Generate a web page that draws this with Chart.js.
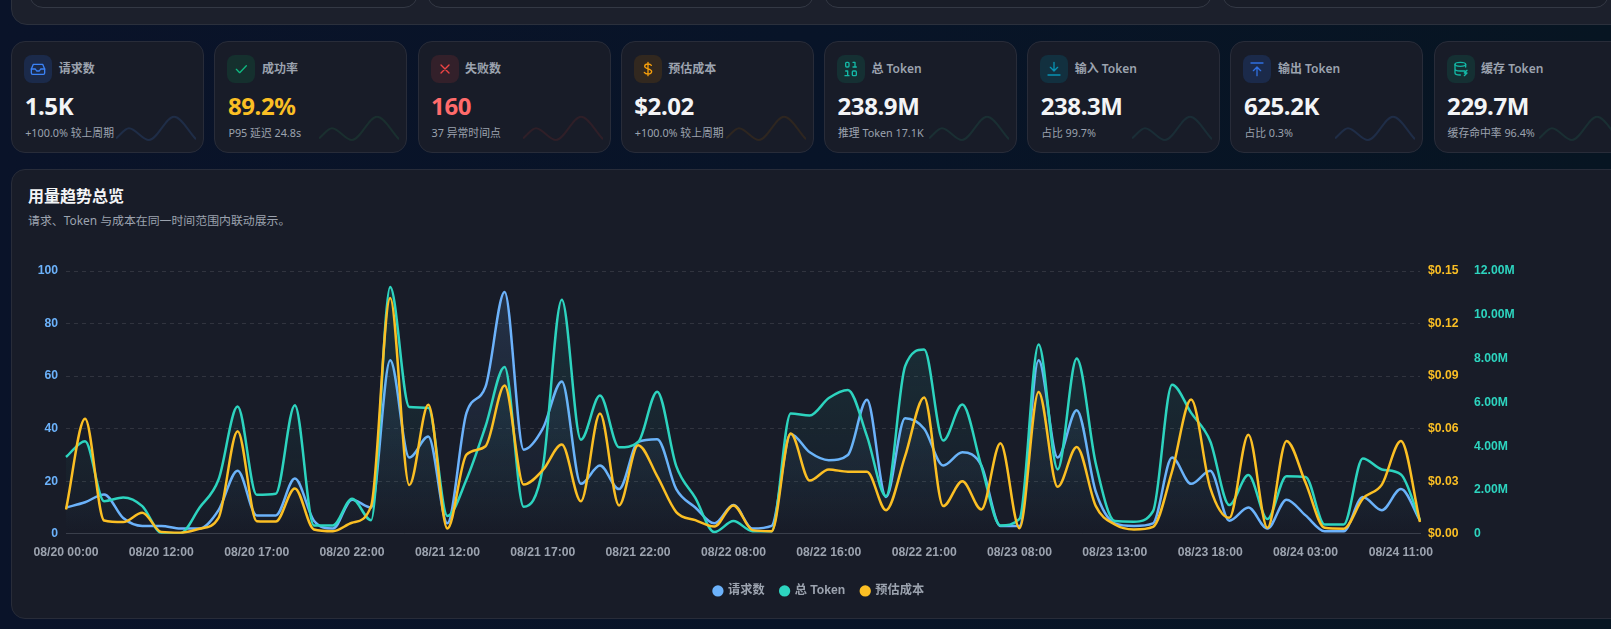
<!DOCTYPE html>
<html lang="zh-CN"><head><meta charset="utf-8">
<script src="https://cdn.jsdelivr.net/npm/chart.js@4"></script>
<style>
*{box-sizing:border-box}
html,body{margin:0;height:629px;width:1611px;overflow:hidden}
body{background:linear-gradient(90deg,#0a1329,#081428 50%,#071522);font-family:"Noto Sans","Noto Sans CJK SC",sans-serif;position:relative}
.abs{position:absolute}
.top{left:11px;top:-40px;width:1640px;height:64.5px;background:#1c202c;border:1px solid #2b303c;border-radius:16px}
.inner{top:-40px;height:47.5px;background:#191d28;border:1px solid #343945;border-radius:14px}
.card{top:41px;width:193px;height:112px;background:#181c28;border:1px solid #282c39;border-radius:14px}
.tile{left:12px;top:13px;width:28px;height:28px;border-radius:8px;display:flex;align-items:center;justify-content:center}
.lab{left:46.5px;top:18px;font-size:12px;line-height:18px;font-weight:600;color:#9ca3af;white-space:nowrap}
.val{left:12.5px;top:46.5px;font-size:24px;line-height:34px;font-weight:700;color:#f3f4f6;letter-spacing:-.4px;white-space:nowrap}
.sub{left:13px;top:82px;font-size:10.8px;line-height:17px;color:#9ca3af;white-space:nowrap}
.spark{left:104px;top:72px;width:80px;height:28px}
.panel{left:11px;top:169px;width:1640px;height:450px;background:#181c28;border:1px solid #282c39;border-radius:14px}
h3{margin:0;left:28px;top:183.5px;font-size:16px;line-height:24px;font-weight:700;color:#f3f4f6;white-space:nowrap}
.ps{left:28px;top:211px;font-size:11.9px;line-height:18px;color:#9ca3af;white-space:nowrap}
#main{left:28px;top:240px}
</style></head><body>
<div class="abs top"></div>
<div class="abs inner" style="left:28.5px;width:389px"></div>
<div class="abs inner" style="left:427px;width:387px"></div>
<div class="abs inner" style="left:824px;width:388px"></div>
<div class="abs inner" style="left:1222px;width:387px"></div>
<div id="cards"></div>
<div class="abs panel"></div>
<h3 class="abs">用量趋势总览</h3>
<div class="abs ps">请求、Token 与成本在同一时间范围内联动展示。</div>
<canvas id="main" class="abs" width="1582" height="367" style="width:1582px;height:367px"></canvas>
<script>
const tickLabels=["08/20 00:00","08/20 12:00","08/20 17:00","08/20 22:00","08/21 12:00","08/21 17:00","08/21 22:00","08/22 08:00","08/22 16:00","08/22 21:00","08/23 08:00","08/23 13:00","08/23 18:00","08/24 03:00","08/24 11:00"];
const requests=[10,12,15,6,3,3,2,2,9,24,7,7,21,5,2,13,10,66,29,37,4,46,56,92,32,40,58,19,26,17,35,36,17,10,4,11,2,3,38,31,28,30,51,14,44,40,26,31,26,3,3,66,29,47,16,4,3,4,29,19,24,5,10,2,13,7,1,1,14,9,17,5];
const tokensM=[3.51,4.23,1.49,1.66,1.26,0.05,0.03,1.19,2.48,5.81,1.78,1.83,5.87,0.38,0.38,1.6,0.62,11.27,5.79,5.75,0.81,2.48,4.91,7.62,1.23,3.0,10.69,4.3,6.31,3.95,4.18,6.49,3.09,1.64,0.08,0.58,0.12,0.12,5.49,5.4,6.2,6.57,4.46,1.72,7.65,8.41,4.26,5.9,3.09,0.38,0.68,8.64,2.94,8.0,3.2,0.58,0.55,1.03,6.81,5.52,4.23,1.31,2.68,0.68,2.63,2.59,0.43,0.43,3.44,2.94,2.71,0.62];
const costs=[0.0139,0.0656,0.0076,0.0067,0.012,0.001,0.0006,0.0029,0.0091,0.0586,0.0072,0.007,0.0259,0.0025,0.0015,0.0063,0.0158,0.1346,0.0278,0.0736,0.003,0.0452,0.05,0.0846,0.0281,0.0363,0.0509,0.0186,0.0686,0.0162,0.0506,0.0329,0.0124,0.0078,0.0042,0.0162,0.0021,0.0015,0.0572,0.0304,0.0367,0.0354,0.0354,0.0135,0.0443,0.0778,0.0158,0.03,0.0139,0.0517,0.0032,0.081,0.0268,0.0496,0.0158,0.0053,0.0025,0.004,0.0357,0.0766,0.0262,0.0091,0.0565,0.0034,0.053,0.0291,0.0034,0.0029,0.02,0.0281,0.053,0.0067];
const sparkX=[0,13,33,58,80];
const sparkY=[0.13,0.49,0.07,0.9,0.1];
const categories=requests.map((_,i)=>i%5===0?tickLabels[i/5]:"");

const ic={
inbox:'<path d="M5 5h14l3 7v6a2 2 0 0 1-2 2H4a2 2 0 0 1-2-2v-6z"/><path d="M2 12h6l2 3h4l2-3h6"/>',
check:'<path d="M5 12.5l5 5L20 7"/>',
x:'<path d="M6 6l12 12M18 6L6 18"/>',
dollar:'<path d="M12 2v20M17 6.5C16 5 14.5 4.5 12 4.5c-3 0-5 1.400-5 3.500s2 3 5 3.800 5.500 1.800 5.500 4-2 3.700-5.500 3.700c-2.800 0-4.500-.8-5.500-2.500"/>',
bin:'<rect x="4" y="2" width="5" height="7" rx="1.500"/><path d="M15 2h3v7M15 9h5"/><path d="M4 15h3v7M3 22h6"/><rect x="14" y="15" width="6" height="7" rx="1.500"/>',
down:'<path d="M12 2v13M6.500 9.500L12 15l5.500-5.500M3 21h18"/>',
up:'<path d="M3 3h18M12 22V9M6.500 14.500L12 9l5.500 5.500"/>',
db:'<ellipse cx="11" cy="5" rx="8" ry="3"/><path d="M3 5v13c0 1.700 3.500 3 8 3M19 5v4M3 12c0 1.700 3.500 3 8 3h7M21 14l-4 4h4l-4 4"/>'
};
const cards=[
["请求数","1.5K","+100.0% 较上周期","inbox","#1b2a4a","#3b82f6","#f3f4f6","#1f2d47"],
["成功率","89.2%","P95 延迟 24.8s","check","#15302e","#10b981","#fbbf24","#1a2f2f"],
["失败数","160","37 异常时间点","x","#33202a","#ef4444","#ff6b6b","#2f1f28"],
["预估成本","$2.02","+100.0% 较上周期","dollar","#32281f","#f59e0b","#f3f4f6","#2e2620"],
["总 Token","238.9M","推理 Token 17.1K","bin","#153033","#14b8a6","#f3f4f6","#1a2f33"],
["输入 Token","238.3M","占比 99.7%","down","#12303f","#0891b2","#f3f4f6","#1a2d36"],
["输出 Token","625.2K","占比 0.3%","up","#1b2a4a","#2f6fe0","#f3f4f6","#1f2d47"],
["缓存 Token","229.7M","缓存命中率 96.4%","db","#153033","#14b8a6","#f3f4f6","#1a2f33"]
];
const host=document.getElementById("cards");
cards.forEach((c,i)=>{
 const d=document.createElement("div");d.className="abs card";d.style.left=(11.2+i*203.2)+"px";
 d.innerHTML=`<div class="abs tile" style="background:${c[4]}"><svg width="16" height="16" viewBox="0 0 24 24" fill="none" stroke="${c[5]}" stroke-width="2" stroke-linecap="round" stroke-linejoin="round">${ic[c[3]]}</svg></div><div class="abs lab">${c[0]}</div><div class="abs val" style="color:${c[6]}">${c[1]}</div><div class="abs sub">${c[2]}</div><canvas class="abs spark" width="80" height="28"></canvas>`;
 host.appendChild(d);
 new Chart(d.querySelector("canvas"),{type:"scatter",data:{datasets:[{data:sparkX.map((x,k)=>({x,y:sparkY[k]})),showLine:true,borderColor:c[7],borderWidth:2,pointRadius:0,cubicInterpolationMode:"monotone",clip:false}]},
  options:{responsive:false,animation:false,events:[],layout:{padding:0},plugins:{legend:{display:false},tooltip:{enabled:false}},scales:{x:{display:false,min:0,max:80},y:{display:false,min:0,max:1}}}});
});

const fade=(rgb,a)=>ctx=>{const ca=ctx.chart.chartArea;if(!ca)return "transparent";const g=ctx.chart.ctx.createLinearGradient(0,ca.top,0,ca.bottom);g.addColorStop(0,`rgba(${rgb},${a})`);g.addColorStop(1,`rgba(${rgb},0)`);return g};
const axisFont={family:'"Liberation Sans","Noto Sans CJK SC",sans-serif',size:12.2,weight:"bold"};
const width=w=>s=>{s.width=w};
const baseLabels=Chart.defaults.plugins.legend.labels.generateLabels;
new Chart(document.getElementById("main"),{type:"line",
 data:{labels:categories,datasets:[
  {label:"请求数",data:requests,yAxisID:"y",borderColor:"#6cb2fb",backgroundColor:fade("108,178,251",.16),fill:"origin",borderWidth:2.5,pointRadius:0,cubicInterpolationMode:"monotone",order:3},
  {label:"总 Token",data:tokensM,yAxisID:"yToken",borderColor:"#2dd4bf",backgroundColor:fade("45,212,191",.13),fill:"origin",borderWidth:2.5,pointRadius:0,cubicInterpolationMode:"monotone",order:2},
  {label:"预估成本",data:costs,yAxisID:"yCost",borderColor:"#fbbf24",backgroundColor:"transparent",fill:false,borderWidth:2.5,pointRadius:0,cubicInterpolationMode:"monotone",order:1}
 ]},
 options:{responsive:false,animation:false,events:[],layout:{padding:{top:31,bottom:0,left:0,right:0}},
  plugins:{tooltip:{enabled:false},legend:{position:"bottom",labels:{usePointStyle:true,pointStyle:"circle",boxWidth:8,boxHeight:8,color:"#9ca3af",font:axisFont,padding:16,
    generateLabels:ch=>baseLabels(ch).map(l=>({...l,fillStyle:l.strokeStyle,lineWidth:0})),
    sort:(a,b)=>a.datasetIndex-b.datasetIndex}}},
  scales:{
   x:{offset:false,grid:{display:false,drawTicks:false},border:{display:true,color:"#3a3f4b"},afterFit:s=>{s.height=35;s.paddingLeft=0;s.paddingRight=0},
      ticks:{autoSkip:false,maxRotation:0,minRotation:0,color:"#9ca3af",font:axisFont,padding:12}},
   y:{position:"left",min:0,max:100,afterFit:width(38),ticks:{stepSize:20,color:"#6cb2fb",font:axisFont,padding:8},
      grid:{color:"rgba(255,255,255,.11)",drawTicks:false},border:{display:false,dash:[4,4]}},
   yCost:{position:"right",min:0,max:0.15,afterFit:width(46),ticks:{stepSize:0.03,color:"#fbbf24",font:axisFont,padding:8,callback:v=>"$"+v.toFixed(2)},
      grid:{display:false,drawTicks:false},border:{display:false}},
   yToken:{position:"right",min:0,max:12,afterFit:width(144),ticks:{stepSize:2,color:"#2dd4bf",font:axisFont,padding:8,callback:v=>v===0?"0":v.toFixed(2)+"M"},
      grid:{display:false,drawTicks:false},border:{display:false}}
  }}});
</script></body></html>
